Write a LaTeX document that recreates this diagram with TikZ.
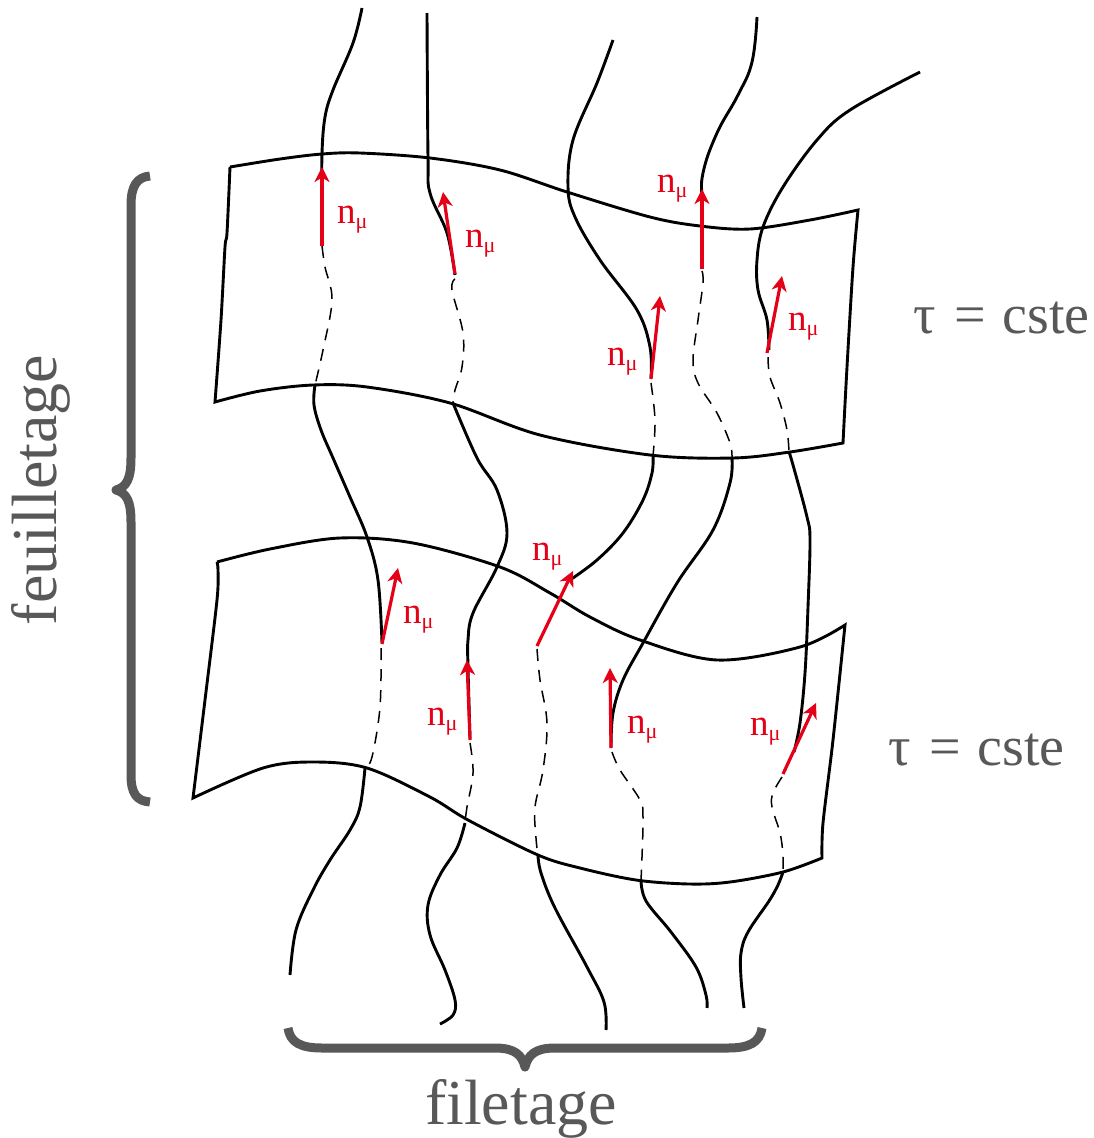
\documentclass[tikz,border=0pt]{standalone}
\usepackage{fontspec}
\setmainfont{Liberation Serif}
\usetikzlibrary{arrows.meta}
\definecolor{nred}{RGB}{228,0,22}
\definecolor{bgray}{RGB}{88,88,88}
\newcommand\nmulab{n\raisebox{-5pt}{\fontsize{22}{22}\selectfont μ}}
\begin{document}
\begin{tikzpicture}[x=1pt,y=-1pt,
  thread/.style={line width=2.9pt,line join=round},
  hidden/.style={line width=1.5pt,dash pattern=on 12pt off 9pt},
  sheet/.style={line width=2.9pt,line join=miter},
  normal/.style={nred,line width=3.2pt,-{Stealth[length=15pt,width=15pt,inset=4.5pt]}},
  nlab/.style={text=nred,font=\fontsize{37}{37}\selectfont,inner sep=0pt,anchor=base west},
  tlab/.style={text=bgray,font=\fontsize{56}{56}\selectfont,inner sep=0pt,anchor=base west},
  blab/.style={text=bgray,font=\fontsize{64}{64}\selectfont,inner sep=0pt,anchor=base},
  brace/.style={bgray,line width=9pt,line join=round}]
\useasboundingbox (0,0) rectangle (1094,1138);

% ---------- sheet 1 ----------
\draw[sheet] plot[smooth,tension=0.55] coordinates {(230,167) (280,159) (322,154) (360,153) (430,158) (500,170) (567,192) (650,217) (700,226) (750,229) (810,220) (858,210)}
  -- plot[smooth,tension=0.5] coordinates {(858,210) (853,267) (847,367) (843,443)}
  -- plot[smooth,tension=0.55] coordinates {(843,443) (790,452) (733,458) (650,455) (540,435) (450,403) (367,387) (313,385) (260,391) (215,402)}
  -- plot[smooth,tension=0.5] coordinates {(215,402) (221,320) (225,247) (227,233) (230,167)};

% ---------- sheet 2 ----------
\draw[sheet] plot[smooth,tension=0.55] coordinates {(217,562) (270,549) (340,538) (413,543) (500,567) (550,593) (590,617) (640,640) (717,660) (800,647) (845,625)}
  -- plot[smooth,tension=0.5] coordinates {(845,625) (833,740) (823,823) (822,858)}
  -- plot[smooth,tension=0.55] coordinates {(822,858) (783,872) (730,882) (689,884) (636,880) (580,868) (538,855) (468,820) (430,797) (367,768) (313,762) (263,768) (193,798)}
  -- plot[smooth,tension=0.5] coordinates {(193,798) (205,700) (217,600) (218,570) (217,562)};

% ---------- thread A ----------
\draw[thread] plot[smooth,tension=0.6] coordinates {(362,8) (353,43) (333,90) (325,117) (322,153) (322,200) (322,240)};
\draw[hidden] plot[smooth,tension=0.6] coordinates {(322,246) (325,267) (332,300) (323,350) (315,385)};
\draw[thread] plot[smooth,tension=0.6] coordinates {(315,385) (314,405) (321,430) (333,458) (350,497) (367,537) (378,580) (382,643)};
\draw[hidden] plot[smooth,tension=0.6] coordinates {(381,648) (380,707) (372,757) (365,768)};
\draw[thread] plot[smooth,tension=0.6] coordinates {(365,768) (360,807) (350,830) (330,860) (313,890) (296,930) (290,975)};

% ---------- thread B ----------
\draw[thread] plot[smooth,tension=0.6] coordinates {(427,13) (428,157) (430,193) (447,233) (455,275)};
\draw[hidden] plot[smooth,tension=0.6] coordinates {(455,279) (452,290) (463,333) (462,367) (455,390) (453,403)};
\draw[thread] plot[smooth,tension=0.6] coordinates {(453,403) (477,458) (497,490) (507,533) (497,567) (473,613) (468,640) (468,667) (470,738)};
\draw[hidden] plot[smooth,tension=0.6] coordinates {(470,743) (473,773) (467,807) (465,823)};
\draw[thread] plot[smooth,tension=0.6] coordinates {(465,823) (457,848) (440,875) (428,905) (430,935) (445,970) (455,1000) (453,1015) (440,1024)};

% ---------- thread C ----------
\draw[thread] plot[smooth,tension=0.6] coordinates {(613,40) (597,83) (573,140) (568,187) (575,217) (600,260) (637,310) (650,347) (651,378)};
\draw[hidden] plot[smooth,tension=0.6] coordinates {(651,383) (655,420) (653,456)};
\draw[thread] plot[smooth,tension=0.6] coordinates {(653,456) (652,473) (643,500) (623,533) (597,560) (570,580)};
\draw[hidden] plot[smooth,tension=0.6] coordinates {(537,649) (540,680) (547,723) (543,770) (535,807) (536,838) (538,855)};
\draw[thread] plot[smooth,tension=0.6] coordinates {(538,855) (541,873) (555,908) (587,967) (604,1002) (606,1030)};

% ---------- thread D ----------
\draw[thread] plot[smooth,tension=0.7] coordinates {(757,17) (752,62) (738,95) (717,133) (703,173) (702,205) (702,266)};
\draw[hidden] plot[smooth,tension=0.6] coordinates {(702,271) (703,283) (698,320) (693,360) (698,383) (717,413) (730,443) (732,458)};
\draw[thread] plot[smooth,tension=0.6] coordinates {(732,458) (730,483) (713,530) (677,583) (643,643) (623,680) (613,713) (611,747)};
\draw[hidden] plot[smooth,tension=0.6] coordinates {(612,752) (620,770) (640,800) (643,817) (642,857) (641,880)};
\draw[thread] plot[smooth,tension=0.6] coordinates {(641,880) (646,901) (671,932) (696,967) (706,995) (707,1008)};

% ---------- thread E ----------
\draw[thread] plot[smooth,tension=0.6] coordinates {(920,72) (850,110) (817,140) (783,187) (763,227) (757,260) (758,290) (767,320) (769,350)};
\draw[hidden] plot[smooth,tension=0.6] coordinates {(768,357) (770,377) (780,403) (787,430) (789,452)};
\draw[thread] plot[smooth,tension=0.6] coordinates {(789,452) (793,465) (807,517) (810,540) (808,607) (805,673) (800,723) (794,752)};
\draw[hidden] plot[smooth,tension=0.6] coordinates {(782,777) (773,793) (772,807) (780,833) (783,855) (783,872)};
\draw[thread] plot[smooth,tension=0.6] coordinates {(783,872) (778,885) (769,901) (748,932) (741,953) (741,978) (744,1008)};

% ---------- normals ----------
\coordinate (a1) at (322,246); \coordinate (b1) at (322,167);
\coordinate (a2) at (455,274); \coordinate (b2) at (443,192);
\coordinate (a3) at (651,379); \coordinate (b3) at (660,296);
\coordinate (a4) at (702,269); \coordinate (b4) at (702,189);
\coordinate (a5) at (767,353); \coordinate (b5) at (782,276);
\coordinate (a6) at (382,644); \coordinate (b6) at (398,568);
\coordinate (a7) at (470,740); \coordinate (b7) at (467,660);
\coordinate (a8) at (537,646); \coordinate (b8) at (573,571);
\coordinate (a9) at (611,748); \coordinate (b9) at (610,668);
\coordinate (a10) at (783,774); \coordinate (b10) at (816,703);
\foreach \i in {1,...,10} {\draw[normal] (a\i) -- (b\i);}

\node[nlab] (l1) at (337,223) {\nmulab};
\node[nlab] (l2) at (465,247) {\nmulab};
\node[nlab] (l3) at (607,365) {\nmulab};
\node[nlab] (l4) at (657,192) {\nmulab};
\node[nlab] (l5) at (788,330) {\nmulab};
\node[nlab] (l6) at (403,623) {\nmulab};
\node[nlab] (l7) at (427,725) {\nmulab};
\node[nlab] (l8) at (532,560) {\nmulab};
\node[nlab] (l9) at (627,733) {\nmulab};
\node[nlab] (l10) at (750,735) {\nmulab};

% ---------- labels ----------
\node[tlab] (tau1) at (913,333) {τ\hspace{0.33em}=\hspace{0.3em}cste};
\node[tlab] (tau2) at (888,765) {τ\hspace{0.33em}=\hspace{0.3em}cste};

\draw[brace] (150,176) .. controls (137,177) and (131,186) .. (131,205) -- (131,458)
  .. controls (131,478) and (127,487) .. (116,490)
  .. controls (127,493) and (131,502) .. (131,522) -- (131,775)
  .. controls (131,794) and (137,801) .. (150,802);
\node[blab,rotate=90] (feuil) at (56,490) {feuilletage};

\draw[brace] (288,1028) .. controls (290,1042) and (300,1048) .. (322,1048) -- (495,1048)
  .. controls (515,1048) and (522,1055) .. (525,1067)
  .. controls (528,1055) and (535,1048) .. (555,1048) -- (728,1048)
  .. controls (750,1048) and (760,1042) .. (762,1028);
\node[blab] (file) at (521,1124) {filetage};
\end{tikzpicture}
\end{document}
